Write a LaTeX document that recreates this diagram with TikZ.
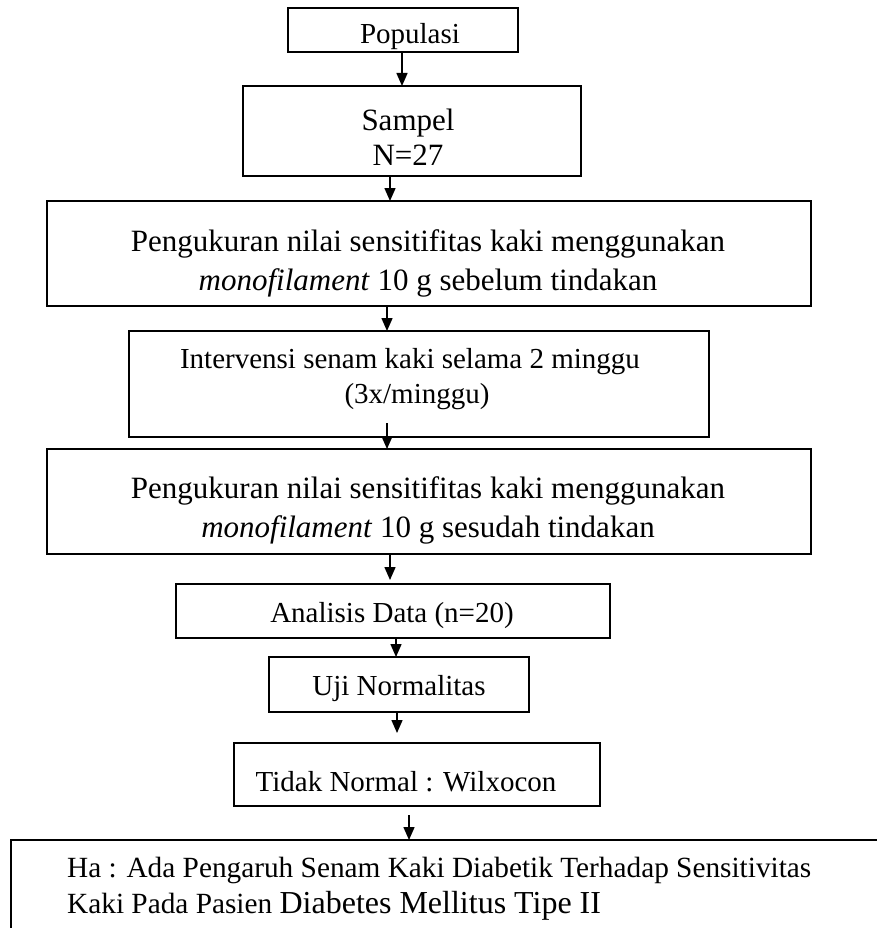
\documentclass[tikz,border=0pt]{standalone}
\usepackage{fontspec}
\setmainfont{Liberation Serif}
\usetikzlibrary{arrows.meta}
\newcommand{\boxat}[5]{%
  \node[box,minimum width={(#4-#2)*1pt},minimum height={(#5-#3)*1pt}] (#1) at ({(#2+#4)/2},{(#3+#5)/2}) {};}
\begin{document}
\begin{tikzpicture}[x=1pt,y=-1pt,
  box/.style={draw,line width=1.6pt,inner sep=0pt,outer sep=0pt},
  txt/.style={anchor=base,inner sep=0pt,font=\fontsize{29}{35}\selectfont},
  txtbig/.style={anchor=base,inner sep=0pt,font=\fontsize{31}{37}\selectfont},
  txtl/.style={anchor=base west,inner sep=0pt,font=\fontsize{29.3}{35}\selectfont},
  arr/.style={line width=1.5pt,-{Triangle[width=11pt,length=13pt]}}]
\useasboundingbox (0,0) rectangle (877,928);
\clip (0,0) rectangle (877,928);
% boxes
\boxat{pop}{288}{8}{518}{52}
\boxat{samp}{243}{86}{581}{176}
\boxat{mone}{47}{201}{811}{306}
\boxat{intv}{129}{331}{709}{437}
\boxat{mtwo}{47}{449}{811}{554}
\boxat{ana}{176}{584}{610}{638}
\boxat{uji}{269}{657}{529}{712}
\boxat{tid}{234}{743}{600}{806}
\node[box,anchor=north west,minimum width=900pt,minimum height=140pt] (fin) at (11,840) {};
% texts
\node[txt] (tpop) at (410,44) {Populasi};
\node[txtbig] (tsa) at (408,131) {Sampel};
\node[txtbig] (tsb) at (408,166) {N=27};
\node[txtbig] (tma) at (428,251) {Pengukuran nilai sensitifitas kaki menggunakan};
\node[txtbig] (tmb) at (428,290) {\textit{monofilament} 10 g sebelum tindakan};
\node[txt] (tia) at (410,368) {Intervensi senam kaki selama 2 minggu};
\node[txt] (tib) at (417,403) {(3x/minggu)};
\node[txtbig] (tna) at (428,498) {Pengukuran nilai sensitifitas kaki menggunakan};
\node[txtbig] (tnb) at (428,537) {\textit{monofilament} 10 g sesudah tindakan};
\node[txt] (tan) at (392,622) {Analisis Data (n=20)};
\node[txt] (tuj) at (399,695) {Uji Normalitas};
\node[txt] (tti) at (406,791) {Tidak Normal : Wilxocon};
\node[txtl] (tfa) at (67,877) {Ha : Ada Pengaruh Senam Kaki Diabetik Terhadap Sensitivitas};
\node[txtl] (tfb) at (67,913) {Kaki Pada Pasien {\fontsize{32}{38}\selectfont Diabetes Mellitus Tipe II}};
% arrow columns
\coordinate (xa) at (402,0);
\coordinate (xb) at (390,0);
\coordinate (xc) at (387,0);
\coordinate (xd) at (387,0);
\coordinate (xe) at (390,0);
\coordinate (xf) at (396,0);
\coordinate (xg) at (397,0);
\coordinate (xh) at (409,0);
% arrows
\draw[arr] (pop.south -| xa) -- (samp.north -| xa);
\draw[arr] (samp.south -| xb) -- (mone.north -| xb);
\draw[arr] (mone.south -| xc) -- (intv.north -| xc);
\draw[arr] ([yshift=14pt]intv.south -| xd) -- (mtwo.north -| xd);
\draw[arr,shorten >=4pt] (mtwo.south -| xe) -- (ana.north -| xe);
\draw[arr] (ana.south -| xf) -- (uji.north -| xf);
\draw[arr,shorten >=10pt] (uji.south -| xg) -- (tid.north -| xg);
\draw[arr,shorten <=9pt] (tid.south -| xh) -- (fin.north -| xh);
\end{tikzpicture}
\end{document}
